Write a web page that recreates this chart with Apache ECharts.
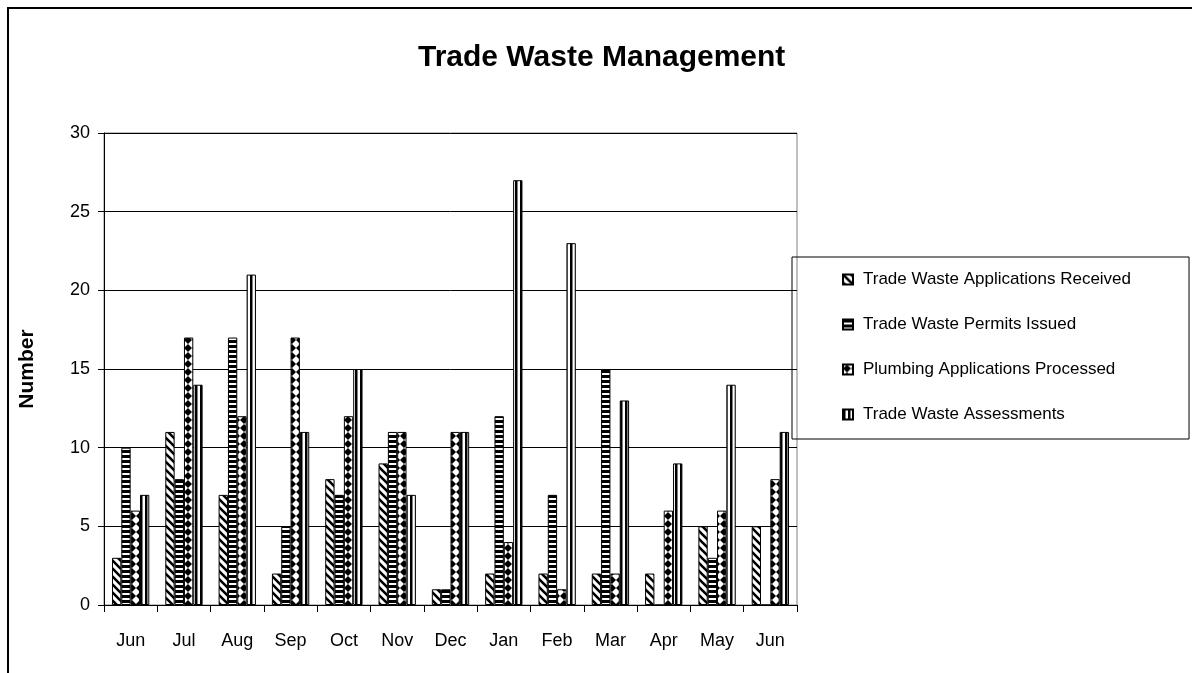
<!DOCTYPE html>
<html>
<head>
<meta charset="utf-8">
<script src="https://cdn.jsdelivr.net/npm/echarts@6/dist/echarts.min.js"></script>
<style>
  html, body { margin: 0; padding: 0; background: #fff; }
  #chart { width: 1192px; height: 673px; }
</style>
</head>
<body>
<div id="chart"></div>
<script>
var months = ['Jun', 'Jul', 'Aug', 'Sep', 'Oct', 'Nov', 'Dec', 'Jan', 'Feb', 'Mar', 'Apr', 'May', 'Jun'];
var applicationsReceived = [3, 11, 7, 2, 8, 9, 1, 2, 2, 2, 2, 5, 5];
var permitsIssued = [10, 8, 17, 5, 7, 11, 1, 12, 7, 15, 0, 3, 0];
var plumbingProcessed = [6, 17, 12, 17, 12, 11, 11, 4, 1, 2, 6, 6, 8];
var assessments = [7, 14, 21, 11, 15, 7, 11, 27, 23, 13, 9, 14, 11];
var seriesNames = ['Trade Waste Applications Received', 'Trade Waste Permits Issued', 'Plumbing Applications Processed', 'Trade Waste Assessments'];

var FONT = '"Liberation Sans", Arial, sans-serif';

// small canvas tiles used as fill patterns (black & white like the original)
function makeTile(w, h, draw) {
  var c = document.createElement('canvas');
  c.width = w; c.height = h;
  var ctx = c.getContext('2d');
  ctx.fillStyle = '#fff';
  ctx.fillRect(0, 0, w, h);
  ctx.fillStyle = '#000';
  ctx.strokeStyle = '#000';
  draw(ctx, w, h);
  return { image: c, repeat: 'repeat' };
}

var diagPattern = makeTile(8, 8, function (ctx, w, h) {
  ctx.lineWidth = 2.6;
  ctx.beginPath();
  ctx.moveTo(-2, -2); ctx.lineTo(w + 2, h + 2);
  ctx.moveTo(-2, h - 2); ctx.lineTo(2, h + 2);
  ctx.moveTo(w - 2, -2); ctx.lineTo(w + 2, 2);
  ctx.stroke();
});
var hStripePattern = makeTile(4, 5, function (ctx, w, h) {
  ctx.fillRect(0, 0, w, 3);
});
var diamondPattern = makeTile(8, 8, function (ctx, w, h) {
  ctx.beginPath();
  ctx.moveTo(4, 0); ctx.lineTo(8, 4); ctx.lineTo(4, 8); ctx.lineTo(0, 4);
  ctx.closePath();
  ctx.fill();
});
var vStripePattern = makeTile(5, 4, function (ctx, w, h) {
  ctx.fillRect(0, 0, 2.5, h);
});

var patterns = [diagPattern, hStripePattern, diamondPattern, vStripePattern];
var values = [applicationsReceived, permitsIssued, plumbingProcessed, assessments];

var chart = echarts.init(document.getElementById('chart'), null, { renderer: 'canvas' });

var series = [];
for (var i = 0; i < seriesNames.length; i++) {
  series.push({
    name: seriesNames[i],
    type: 'bar',
    data: values[i],
    barGap: '0%',
    barCategoryGap: '30%',
    itemStyle: {
      color: patterns[i],
      borderColor: '#000',
      borderWidth: 1
    },
    emphasis: { disabled: true }
  });
}

chart.setOption({
  animation: false,
  backgroundColor: '#fff',
  textStyle: { fontFamily: FONT, color: '#000' },
  title: {
    text: 'Trade Waste Management',
    left: 418,
    top: 43,
    padding: 0,
    textStyle: { fontFamily: FONT, fontSize: 30, fontWeight: 'bold', color: '#000' }
  },
  legend: {
    orient: 'vertical',
    left: 792,
    top: 257,
    padding: [14, 58, 16, 50],
    itemGap: 28,
    itemWidth: 10,
    itemHeight: 10,
    icon: 'rect',
    borderColor: '#000',
    borderWidth: 1,
    data: seriesNames,
    textStyle: { fontFamily: FONT, fontSize: 17, color: '#000', padding: [0, 0, 0, 5] }
  },
  grid: {
    left: 104,
    right: 395,
    top: 133,
    bottom: 68,
    show: true,
    borderColor: '#808080',
    borderWidth: 1,
    containLabel: false
  },
  xAxis: {
    type: 'category',
    data: months,
    axisLine: { lineStyle: { color: '#000', width: 1 } },
    axisTick: { show: true, length: 7, lineStyle: { color: '#000' } },
    axisLabel: { margin: 27, fontSize: 18, color: '#000', fontFamily: FONT }
  },
  yAxis: {
    type: 'value',
    min: 0,
    max: 30,
    interval: 5,
    name: 'Number',
    nameLocation: 'middle',
    nameGap: 66,
    nameTextStyle: { fontFamily: FONT, fontSize: 21, fontWeight: 'bold', color: '#000' },
    axisLine: { show: true, lineStyle: { color: '#000', width: 1 } },
    axisTick: { show: true, length: 6, lineStyle: { color: '#000' } },
    axisLabel: { margin: 14, fontSize: 18, color: '#000', fontFamily: FONT },
    splitLine: { show: true, lineStyle: { color: '#000', width: 1 } }
  },
  graphic: [{
    type: 'rect',
    shape: { x: 8, y: 8, width: 1400, height: 1000 },
    style: { fill: 'none', stroke: '#000', lineWidth: 2 },
    silent: true,
    z: 100
  }],
  series: series
});
</script>
</body>
</html>
